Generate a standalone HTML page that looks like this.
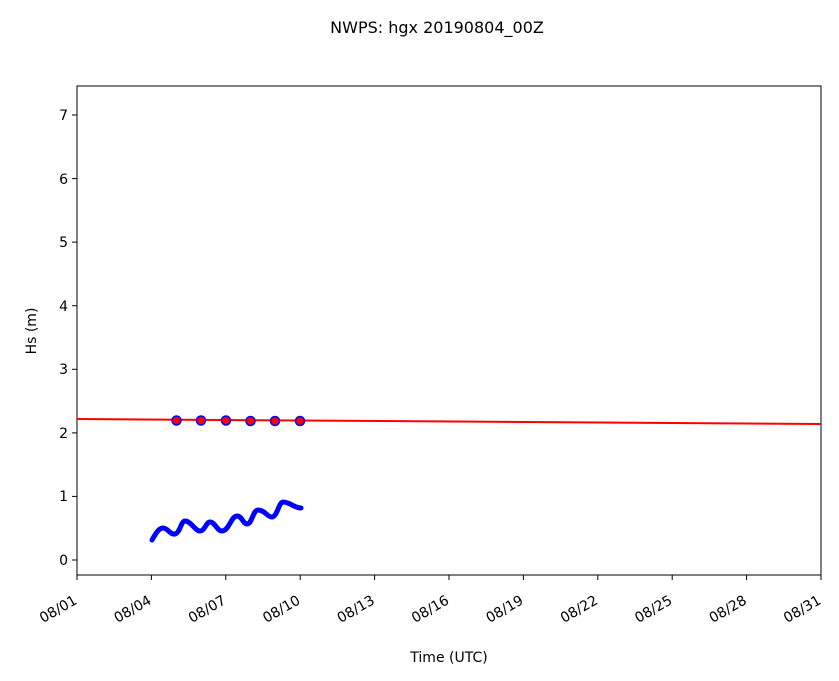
<!DOCTYPE html>
<html><head><style>body{margin:0;background:#fff}svg{display:block}text{font-family:"DejaVu Sans","Liberation Sans",sans-serif;fill:#000}</style></head>
<body>
<svg width="839" height="681" viewBox="0 0 839 681">
<text x="437" y="33" font-size="16" text-anchor="middle">NWPS: hgx 20190804_00Z</text>
<rect x="77" y="86" width="744" height="489" fill="none" stroke="#000" stroke-width="1"/>
<g stroke="#000">
<line x1="72" y1="560" x2="77" y2="560"/><line x1="72" y1="496.4" x2="77" y2="496.4"/><line x1="72" y1="432.9" x2="77" y2="432.9"/><line x1="72" y1="369.3" x2="77" y2="369.3"/><line x1="72" y1="305.7" x2="77" y2="305.7"/><line x1="72" y1="242.1" x2="77" y2="242.1"/><line x1="72" y1="178.6" x2="77" y2="178.6"/><line x1="72" y1="115" x2="77" y2="115"/>
<line x1="77" y1="575" x2="77" y2="580"/><line x1="151.4" y1="575" x2="151.4" y2="580"/><line x1="225.8" y1="575" x2="225.8" y2="580"/><line x1="300.2" y1="575" x2="300.2" y2="580"/><line x1="374.6" y1="575" x2="374.6" y2="580"/><line x1="449" y1="575" x2="449" y2="580"/><line x1="523.4" y1="575" x2="523.4" y2="580"/><line x1="597.8" y1="575" x2="597.8" y2="580"/><line x1="672.2" y1="575" x2="672.2" y2="580"/><line x1="746.6" y1="575" x2="746.6" y2="580"/><line x1="821" y1="575" x2="821" y2="580"/>
</g>
<g font-size="14" text-anchor="end">
<text x="68" y="565">0</text><text x="68" y="501">1</text><text x="68" y="438">2</text><text x="68" y="374">3</text><text x="68" y="311">4</text><text x="68" y="247">5</text><text x="68" y="184">6</text><text x="68" y="120">7</text>
</g>
<g font-size="14" text-anchor="end">
<text transform="translate(78,603) rotate(-30)">08/01</text>
<text transform="translate(152.4,603) rotate(-30)">08/04</text>
<text transform="translate(226.8,603) rotate(-30)">08/07</text>
<text transform="translate(301.2,603) rotate(-30)">08/10</text>
<text transform="translate(375.6,603) rotate(-30)">08/13</text>
<text transform="translate(450,603) rotate(-30)">08/16</text>
<text transform="translate(524.4,603) rotate(-30)">08/19</text>
<text transform="translate(598.8,603) rotate(-30)">08/22</text>
<text transform="translate(673.2,603) rotate(-30)">08/25</text>
<text transform="translate(747.6,603) rotate(-30)">08/28</text>
<text transform="translate(822,603) rotate(-30)">08/31</text>
</g>
<text x="449" y="662" font-size="14" text-anchor="middle">Time (UTC)</text>
<text transform="translate(36,331) rotate(-90)" font-size="14" text-anchor="middle">Hs (m)</text>
<line x1="77" y1="419" x2="821" y2="424" stroke="#f00" stroke-width="2"/>
<path d="M152,540 C156,533 159,528 163,528 C168,528 170,535 175,534 C180,533 181,521 185,521 C191,521 195,531 200,531 C205,531 206,522 210,522 C215,522 217,531 222,531 C229,531 231,516 237,516 C242,516 243,524 247,524 C252,524 253,510 258,510 C265,510 267,517 272,517 C277,517 279,502 283,502 C290,502 294,508 301,508" fill="none" stroke="#00f" stroke-width="5" stroke-linecap="round" stroke-linejoin="round"/>
<g fill="#f00" stroke="#00f" stroke-width="1.5">
<circle cx="176.5" cy="420.5" r="4.5"/><circle cx="201" cy="420.5" r="4.5"/><circle cx="226" cy="420.5" r="4.5"/><circle cx="250.5" cy="421" r="4.5"/><circle cx="275" cy="421" r="4.5"/><circle cx="300" cy="421" r="4.5"/>
</g>
</svg>
</body></html>
